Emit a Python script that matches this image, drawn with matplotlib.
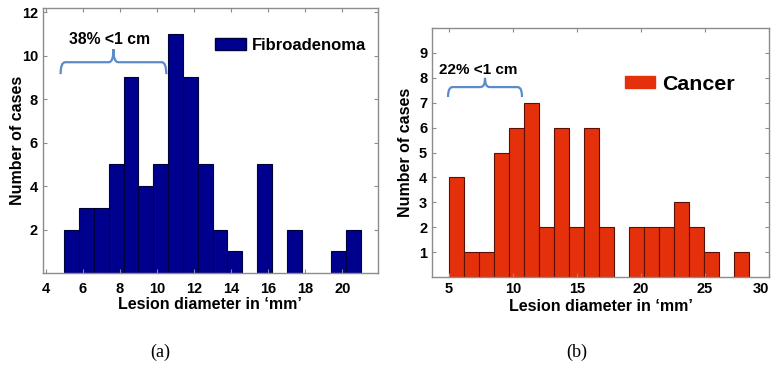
import numpy as np
import matplotlib
matplotlib.use("Agg")
import matplotlib.pyplot as plt
from matplotlib.patches import Patch, PathPatch
from matplotlib.path import Path

# data
fib_edges = np.linspace(5, 21, 21)
fib_counts = [2, 3, 3, 5, 9, 4, 5, 11, 9, 5, 2, 1, 0, 5, 0, 2, 0, 0, 1, 2]
can_edges = np.linspace(5, 28.4, 21)
can_counts = [4, 1, 1, 5, 6, 7, 2, 6, 2, 6, 2, 0, 2, 2, 2, 3, 2, 1, 0, 1]

fib_xticks = [4, 6, 8, 10, 12, 14, 16, 18, 20]
fib_yticks = [2, 4, 6, 8, 10, 12]
can_xticks = [5, 10, 15, 20, 25, 30]
can_yticks = [1, 2, 3, 4, 5, 6, 7, 8, 9]

plt.rcParams['font.family'] = ['Liberation Sans', 'DejaVu Sans']
plt.rcParams['font.weight'] = 'bold'

FIB_COLOR = '#00008f'
CAN_COLOR = '#e5300c'
BRACE_COLOR = '#5b8bc9'
SPINE_COLOR = '#8c8c8c'

fig = plt.figure(figsize=(7.73, 3.76), dpi=100)
ax1 = fig.add_axes([0.0556, 0.274, 0.433, 0.705])
ax2 = fig.add_axes([0.5589, 0.2633, 0.436, 0.662])


def draw_hist(ax, edges, counts, color, edgecolor):
    edges = np.asarray(edges)
    counts = np.asarray(counts)
    widths = np.diff(edges)
    m = counts > 0
    ax.bar(edges[:-1][m], counts[m], width=widths[m], align='edge',
           color=color, edgecolor=edgecolor, linewidth=0.8)


def brace(ax, x0, x1, y, drop, rise, r, color):
    xm = (x0 + x1) / 2
    verts = [
        (x0, y - drop), (x0, y), (x0 + r, y),
        (xm - r, y), (xm, y), (xm, y + rise),
        (xm, y), (xm + r, y),
        (x1 - r, y), (x1, y), (x1, y - drop),
    ]
    codes = [Path.MOVETO, Path.CURVE3, Path.CURVE3,
             Path.LINETO, Path.CURVE3, Path.CURVE3,
             Path.CURVE3, Path.CURVE3,
             Path.LINETO, Path.CURVE3, Path.CURVE3]
    ax.add_patch(PathPatch(Path(verts, codes), facecolor='none',
                           edgecolor=color, linewidth=1.6, clip_on=False))


def style_axes(ax, ticksize):
    for s in ax.spines.values():
        s.set_color(SPINE_COLOR)
        s.set_linewidth(1.0)
    ax.tick_params(direction='in', top=True, right=True, length=3,
                   color=SPINE_COLOR, labelsize=ticksize, labelcolor='black')
    for lab in ax.get_xticklabels() + ax.get_yticklabels():
        lab.set_fontweight('bold')


# (a) fibroadenoma
draw_hist(ax1, fib_edges, fib_counts, FIB_COLOR, '#00003a')
ax1.set_xlim(3.85, 21.9)
ax1.set_ylim(0, 12.2)
ax1.set_xticks(fib_xticks)
ax1.set_yticks(fib_yticks)
style_axes(ax1, 10.5)
ax1.tick_params(axis='x', pad=6.5)
ax1.set_xlabel('Lesion diameter in \u2018mm\u2019', fontsize=11.5, fontweight='bold', labelpad=0.5)
ax1.set_ylabel('Number of cases', fontsize=11.5, fontweight='bold')
ax1.yaxis.set_label_coords(-0.054, 0.5)
ax1.legend(handles=[Patch(facecolor=FIB_COLOR, edgecolor='#00003a', label='Fibroadenoma')],
           loc='center left', bbox_to_anchor=(0.513, 0.86), frameon=False,
           borderpad=0, borderaxespad=0, handlelength=1.9, handleheight=0.72,
           handletextpad=0.35, prop={'size': 12, 'weight': 'bold'})
brace(ax1, 4.8, 10.5, 9.7, 0.55, 0.6, 0.25, BRACE_COLOR)
ax1.text(7.45, 10.75, '38% <1 cm', ha='center', va='center', fontsize=11.3, fontweight='bold')

# (b) cancer
draw_hist(ax2, can_edges, can_counts, CAN_COLOR, '#5a1005')
ax2.set_xlim(3.67, 30)
ax2.set_ylim(0, 10)
ax2.set_xticks(can_xticks)
ax2.set_yticks(can_yticks)
style_axes(ax2, 10.5)
ax2.get_xticklabels()[-1].set_horizontalalignment('right')
ax2.set_xlabel('Lesion diameter in \u2018mm\u2019', fontsize=11.5, fontweight='bold', labelpad=2.5)
ax2.set_ylabel('Number of cases', fontsize=11.5, fontweight='bold')
ax2.yaxis.set_label_coords(-0.056, 0.5)
ax2.legend(handles=[Patch(facecolor=CAN_COLOR, edgecolor=CAN_COLOR, label='Cancer')],
           loc='center left', bbox_to_anchor=(0.573, 0.775), frameon=False,
           borderpad=0, borderaxespad=0, handlelength=1.4, handleheight=0.5,
           handletextpad=0.33, prop={'size': 15.4, 'weight': 'bold'})
brace(ax2, 4.92, 10.7, 7.63, 0.4, 0.37, 0.35, BRACE_COLOR)
ax2.text(7.27, 8.3, '22% <1 cm', ha='center', va='center', fontsize=11, fontweight='bold')

fig.text(0.207, 0.064, '(a)', ha='center', va='center', fontsize=13,
         family='Liberation Serif', fontweight='normal')
fig.text(0.746, 0.064, '(b)', ha='center', va='center', fontsize=13,
         family='Liberation Serif', fontweight='normal')

fig.savefig('out.png', dpi=100)
